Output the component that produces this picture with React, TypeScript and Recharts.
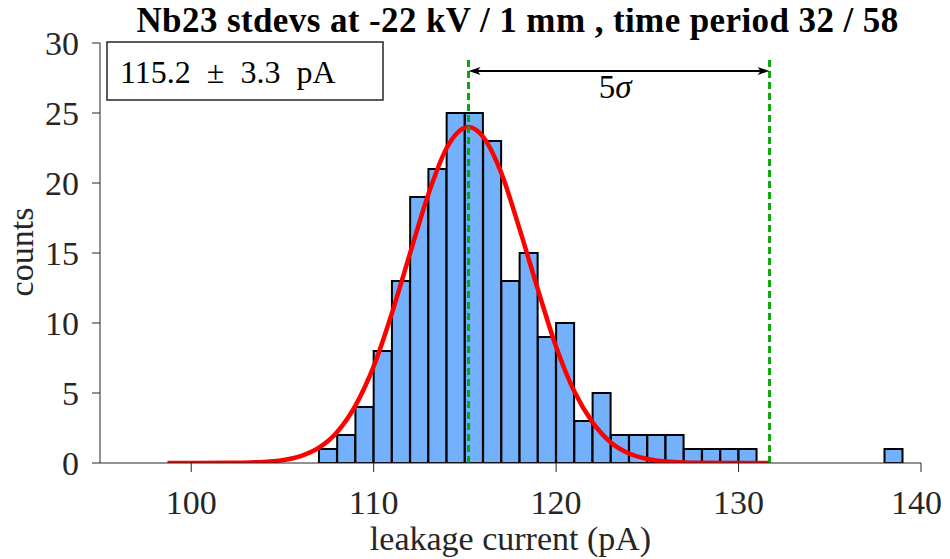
import React from "react";
import { ComposedChart, Bar, Line, XAxis, YAxis, ReferenceLine } from "recharts";

// histogram bins (left edge, width 1 pA) and counts
const binStarts = [107, 108, 109, 110, 111, 112, 113, 114, 115, 116, 117, 118, 119, 120, 121, 122, 123, 124, 125, 126, 127, 128, 129, 130, 138];
const binCounts = [1, 2, 4, 8, 13, 19, 21, 25, 25, 23, 13, 15, 9, 10, 3, 5, 2, 2, 2, 2, 1, 1, 1, 1, 1];

// gaussian fit
const fitX = [98.7, 100, 102, 104, 105, 106, 107, 108, 109, 110, 111, 112, 113, 114, 115.2, 116, 117, 118, 119, 120, 121, 122, 123, 124, 125, 126, 128, 130, 131.7];
const fitY = [0, 0, 0.01, 0.08, 0.2, 0.49, 1.09, 2.22, 4.1, 6.9, 10.7, 15.0, 19.2, 22.5, 24, 23.3, 20.7, 16.7, 12.4, 8.3, 5.1, 2.9, 1.47, 0.68, 0.29, 0.11, 0.01, 0, 0];

const fitMean = 115.2;
const fiveSigmaEdge = 131.7;
const arrowLevel = 28;
const markerTop = 28.8;

const xDomain = [95, 140];
const yDomain = [0, 30];
const xTicks = [100, 110, 120, 130, 140];
const yTicks = [0, 5, 10, 15, 20, 25, 30];

const titleText = "Nb23 stdevs at -22 kV / 1 mm , time period 32 / 58";
const legendText = "115.2 \u00b1 3.3 pA";
const xLabel = "leakage current (pA)";
const yLabel = "counts";

const FONT = "'Liberation Serif', serif";
const AXIS = "#262626";
const GREEN = "#08a808";

const barData = binStarts.map((s, i) => ({ x: s + 0.5, count: binCounts[i] }));
const fitData = fitX.map((x, i) => ({ x, fit: fitY[i] }));

function ArrowShape(props: any) {
  const { x1, y1, x2, y2 } = props;
  const h = 12;
  const w = 4;
  const mid = (x1 + x2) / 2;
  return (
    <g>
      <line x1={x1 + 4} y1={y1} x2={x2 - 4} y2={y2} stroke="#000" strokeWidth={2} />
      <polygon points={`${x1},${y1} ${x1 + h},${y1 - w} ${x1 + h - 3},${y1} ${x1 + h},${y1 + w}`} fill="#000" />
      <polygon points={`${x2},${y2} ${x2 - h},${y2 - w} ${x2 - h + 3},${y2} ${x2 - h},${y2 + w}`} fill="#000" />
      <text x={mid - 4} y={y1 + 27} textAnchor="middle" fontFamily={FONT} fontSize={33} fill="#000">
        5<tspan fontStyle="italic">σ</tspan>
      </text>
    </g>
  );
}

export default function App() {
  const tick = { fill: AXIS, fontSize: 34, fontFamily: FONT };
  return (
    <div style={{ position: "relative", width: 934, height: 551, fontFamily: FONT }}>
      <ComposedChart width={934} height={551} data={barData} margin={{ top: 35, right: 21, left: 0, bottom: 0 }} barCategoryGap={0} barGap={0}>
        <XAxis xAxisId="x" dataKey="x" type="number" domain={xDomain} ticks={xTicks} allowDataOverflow
          height={96} stroke={AXIS} tick={tick} tickSize={9} tickMargin={18}
          label={{ value: xLabel, position: "insideBottom", offset: 9, fill: AXIS, fontSize: 34, fontFamily: FONT }} />
        <XAxis xAxisId="top" dataKey="x" orientation="top" type="number" domain={xDomain} ticks={xTicks} allowDataOverflow
          height={0} stroke={AXIS} tick={false} tickSize={7} />
        <YAxis yAxisId="y" type="number" domain={yDomain} ticks={yTicks} allowDataOverflow
          width={92} stroke={AXIS} tick={tick} tickSize={8} tickMargin={13} />
        <YAxis yAxisId="right" orientation="right" type="number" domain={yDomain} ticks={yTicks} allowDataOverflow
          width={0} stroke={AXIS} tick={false} tickSize={8} />
        <Bar xAxisId="x" yAxisId="y" dataKey="count" fill="#73b1fd" stroke="#000" strokeWidth={2} isAnimationActive={false} />
        <Line xAxisId="top" yAxisId="y" data={fitData} dataKey="fit" type="monotone" stroke="#ff0000" strokeWidth={4.5} dot={false} isAnimationActive={false} />
        <ReferenceLine xAxisId="x" yAxisId="y" segment={[{ x: fitMean, y: 0 }, { x: fitMean, y: markerTop }]} stroke={GREEN} strokeWidth={3} strokeDasharray="7 4" />
        <ReferenceLine xAxisId="x" yAxisId="y" segment={[{ x: fiveSigmaEdge, y: 0 }, { x: fiveSigmaEdge, y: markerTop }]} stroke={GREEN} strokeWidth={3} strokeDasharray="7 4" />
        <ReferenceLine xAxisId="x" yAxisId="y" segment={[{ x: fitMean, y: arrowLevel }, { x: fiveSigmaEdge, y: arrowLevel }]} shape={ArrowShape} />
      </ComposedChart>
      <svg width={950} height={559} style={{ position: "absolute", left: -8, top: -8, pointerEvents: "none" }}>
        <text x={517.5} y={32} textAnchor="middle" fontFamily={FONT} fontSize={35} fontWeight="bold" letterSpacing={0.4} fill="#000">
          {titleText}
        </text>
        <text x={33} y={252} transform="rotate(-90, 33, 252)" textAnchor="middle" fontFamily={FONT} fontSize={34} fill={AXIS}>
          {yLabel}
        </text>
        <rect x={107} y={42} width={276} height={58} fill="#fff" stroke={AXIS} strokeWidth={1.5} />
        <text x={120} y={83} fontFamily={FONT} fontSize={32} wordSpacing={8} fill="#000">
          {legendText}
        </text>
      </svg>
    </div>
  );
}
